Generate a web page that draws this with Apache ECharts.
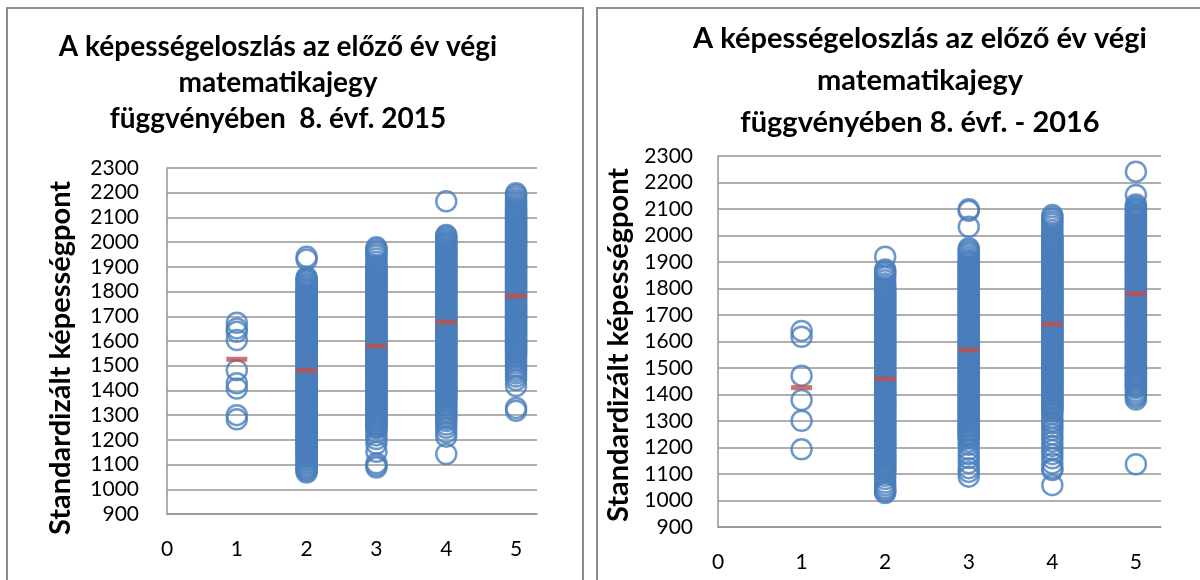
<!DOCTYPE html>
<html>
<head>
<meta charset="utf-8">
<title>Képességeloszlás</title>
<script src="https://cdn.jsdelivr.net/npm/echarts@6.0.0/dist/echarts.min.js"></script>
<style>
html, body { margin: 0; padding: 0; background: #fff; }
#chart { width: 1200px; height: 580px; }
</style>
</head>
<body>
<div id="chart"></div>
<script>
// évfolyam / jegy kategóriák
var grades = [1, 2, 3, 4, 5];
var xMin = 0, xMax = 5.3, xStep = 1;
var yMin = 900, yMax = 2300, yStep = 100;

var title2015 = ['A képességeloszlás az előző év végi', 'matematikajegy', 'függvényében  8. évf. 2015'];
var title2016 = ['A képességeloszlás az előző év végi', 'matematikajegy', 'függvényében 8. évf. - 2016'];
var yName = 'Standardizált képességpont';

// 2015 - képességpontok jegyenként (leolvasott becslés)
var s15g1 = [1674, 1651, 1637, 1604, 1482, 1429, 1408, 1300, 1283];
var s15g2 = [1941, 1930, 1858, 1851, 1846, 1840, 1832, 1826, 1820,
  1812, 1808, 1802, 1797, 1790, 1787, 1782, 1776, 1772, 1768, 1762, 1757, 1750, 1747, 1742, 1736,
  1732, 1728, 1722, 1717, 1710, 1707, 1702, 1696, 1692, 1688, 1682, 1677, 1670, 1667, 1662, 1656,
  1652, 1648, 1642, 1637, 1630, 1627, 1622, 1616, 1612, 1608, 1602, 1597, 1590, 1587, 1582, 1576,
  1572, 1568, 1562, 1557, 1550, 1547, 1542, 1536, 1532, 1528, 1522, 1517, 1510, 1507, 1502, 1496,
  1492, 1488, 1482, 1477, 1470, 1467, 1462, 1456, 1452, 1448, 1442, 1437, 1430, 1427, 1422, 1416,
  1412, 1408, 1402, 1397, 1390, 1387, 1382, 1376, 1372, 1368, 1362, 1357, 1350, 1347, 1342, 1336,
  1332, 1328, 1322, 1317, 1310, 1307, 1302, 1296, 1292, 1288, 1282, 1277, 1270, 1267, 1262, 1256,
  1252, 1248, 1242, 1237, 1230, 1227, 1222, 1216, 1212, 1208, 1202, 1197, 1190, 1187, 1182, 1176,
  1172, 1168, 1162, 1157, 1150, 1147, 1142, 1136, 1132, 1128, 1122, 1117,
  1110, 1104, 1097, 1090, 1085, 1079, 1074, 1068];
var s15g3 = [1979, 1972, 1964, 1955, 1946, 1934, 1921, 1909, 1902,
  1895, 1890, 1886, 1879, 1875, 1869, 1864, 1860, 1855, 1850, 1846, 1839, 1835, 1829, 1824, 1820,
  1815, 1810, 1806, 1799, 1795, 1789, 1784, 1780, 1775, 1770, 1766, 1759, 1755, 1749, 1744, 1740,
  1735, 1730, 1726, 1719, 1715, 1709, 1704, 1700, 1695, 1690, 1686, 1679, 1675, 1669, 1664, 1660,
  1655, 1650, 1646, 1639, 1635, 1629, 1624, 1620, 1615, 1610, 1606, 1599, 1595, 1589, 1584, 1580,
  1575, 1570, 1566, 1559, 1555, 1549, 1544, 1540, 1535, 1530, 1526, 1519, 1515, 1509, 1504, 1500,
  1495, 1490, 1486, 1479, 1475, 1469, 1464, 1460, 1455, 1450, 1446, 1439, 1435, 1429, 1424, 1420,
  1415, 1410, 1406, 1399, 1395, 1389, 1384, 1380, 1375, 1370, 1366, 1359, 1355, 1349, 1344, 1340,
  1335, 1330, 1326, 1319, 1315, 1309, 1304, 1300, 1295, 1290, 1286, 1279, 1275, 1269, 1264, 1260,
  1255, 1250, 1246,
  1232, 1218, 1203, 1184, 1152, 1105, 1096, 1088];
var s15g4 = [2165, 2029, 2024, 2017, 2010, 2004,
  1997, 1994, 1989, 1983, 1978, 1973, 1968, 1963, 1957, 1954, 1949, 1943, 1938, 1933, 1928, 1923,
  1917, 1914, 1909, 1903, 1898, 1893, 1888, 1883, 1877, 1874, 1869, 1863, 1858, 1853, 1848, 1843,
  1837, 1834, 1829, 1823, 1818, 1813, 1808, 1803, 1797, 1794, 1789, 1783, 1778, 1773, 1768, 1763,
  1757, 1754, 1749, 1743, 1738, 1733, 1728, 1723, 1717, 1714, 1709, 1703, 1698, 1693, 1688, 1683,
  1677, 1674, 1669, 1663, 1658, 1653, 1648, 1643, 1637, 1634, 1629, 1623, 1618, 1613, 1608, 1603,
  1597, 1594, 1589, 1583, 1578, 1573, 1568, 1563, 1557, 1554, 1549, 1543, 1538, 1533, 1528, 1523,
  1517, 1514, 1509, 1503, 1498, 1493, 1488, 1483, 1477, 1474, 1469, 1463, 1458, 1453, 1448, 1443,
  1437, 1434, 1429, 1423, 1418, 1413, 1408, 1403, 1397, 1394, 1389, 1383, 1378, 1373, 1368,
  1362, 1355, 1348, 1340, 1333, 1325, 1318, 1310, 1302, 1294, 1285, 1276, 1262, 1249, 1231, 1213, 1143];
var s15g5 = [2198, 2191, 2182, 2172, 2163, 2154, 2147,
  2140, 2134, 2129, 2125, 2119, 2113, 2108, 2103, 2100, 2094, 2089, 2085, 2079, 2073, 2068, 2063,
  2060, 2054, 2049, 2045, 2039, 2033, 2028, 2023, 2020, 2014, 2009, 2005, 1999, 1993, 1988, 1983,
  1980, 1974, 1969, 1965, 1959, 1953, 1948, 1943, 1940, 1934, 1929, 1925, 1919, 1913, 1908, 1903,
  1900, 1894, 1889, 1885, 1879, 1873, 1868, 1863, 1860, 1854, 1849, 1845, 1839, 1833, 1828, 1823,
  1820, 1814, 1809, 1805, 1799, 1793, 1788, 1783, 1780, 1774, 1769, 1765, 1759, 1753, 1748, 1743,
  1740, 1734, 1729, 1725, 1719, 1713, 1708, 1703, 1700, 1694, 1689, 1685, 1679, 1673, 1668, 1663,
  1660, 1654, 1649, 1645, 1639, 1633, 1628, 1623, 1620, 1614, 1609, 1605, 1599, 1593, 1588, 1583,
  1580, 1574, 1569, 1565, 1559, 1553, 1548,
  1538, 1530, 1521, 1510, 1499, 1489, 1479, 1469, 1456, 1442, 1418, 1329, 1318];
var mean2015 = [1526, 1481, 1580, 1677, 1782];

// 2016 - képességpontok jegyenként (leolvasott becslés)
var s16g1 = [1640, 1618, 1471, 1379, 1301, 1193];
var s16g2 = [1920, 1872, 1866, 1860, 1853, 1843, 1831, 1819, 1809,
  1801, 1796, 1792, 1785, 1781, 1775, 1770, 1766, 1761, 1756, 1752, 1745, 1741, 1735, 1730, 1726,
  1721, 1716, 1712, 1705, 1701, 1695, 1690, 1686, 1681, 1676, 1672, 1665, 1661, 1655, 1650, 1646,
  1641, 1636, 1632, 1625, 1621, 1615, 1610, 1606, 1601, 1596, 1592, 1585, 1581, 1575, 1570, 1566,
  1561, 1556, 1552, 1545, 1541, 1535, 1530, 1526, 1521, 1516, 1512, 1505, 1501, 1495, 1490, 1486,
  1481, 1476, 1472, 1465, 1461, 1455, 1450, 1446, 1441, 1436, 1432, 1425, 1421, 1415, 1410, 1406,
  1401, 1396, 1392, 1385, 1381, 1375, 1370, 1366, 1361, 1356, 1352, 1345, 1341, 1335, 1330, 1326,
  1321, 1316, 1312, 1305, 1301, 1295, 1290, 1286, 1281, 1276, 1272, 1265, 1261, 1255, 1250, 1246,
  1241, 1236, 1232, 1225, 1221, 1215, 1210, 1206, 1201, 1196, 1192, 1185, 1181, 1175, 1170, 1166,
  1161, 1156, 1152, 1145, 1141, 1135, 1130, 1126, 1121, 1116, 1112, 1105,
  1093, 1081, 1068, 1057, 1047, 1040, 1034, 1028];
var s16g3 = [2099, 2093, 2033, 1952, 1945, 1938, 1930, 1921, 1912,
  1905, 1901, 1895, 1890, 1883, 1880, 1875, 1869, 1865, 1861, 1855, 1850, 1843, 1840, 1835, 1829,
  1825, 1821, 1815, 1810, 1803, 1800, 1795, 1789, 1785, 1781, 1775, 1770, 1763, 1760, 1755, 1749,
  1745, 1741, 1735, 1730, 1723, 1720, 1715, 1709, 1705, 1701, 1695, 1690, 1683, 1680, 1675, 1669,
  1665, 1661, 1655, 1650, 1643, 1640, 1635, 1629, 1625, 1621, 1615, 1610, 1603, 1600, 1595, 1589,
  1585, 1581, 1575, 1570, 1563, 1560, 1555, 1549, 1545, 1541, 1535, 1530, 1523, 1520, 1515, 1509,
  1505, 1501, 1495, 1490, 1483, 1480, 1475, 1469, 1465, 1461, 1455, 1450, 1443, 1440, 1435, 1429,
  1425, 1421, 1415, 1410, 1403, 1400, 1395, 1389, 1385, 1381, 1375, 1370, 1363, 1360, 1355, 1349,
  1345, 1341, 1335, 1330, 1323, 1320, 1315, 1309, 1305, 1301, 1295, 1290, 1283, 1280, 1275, 1269,
  1265, 1261, 1255, 1250, 1243, 1240, 1235,
  1222, 1210, 1192, 1175, 1160, 1141, 1122, 1108, 1090];
var s16g4 = [2077, 2070, 2062, 2053, 2044, 2033, 2021, 2010, 1999,
  1990, 1987, 1982, 1976, 1971, 1966, 1961, 1956, 1950, 1947, 1942, 1936, 1931, 1926, 1921, 1916,
  1910, 1907, 1902, 1896, 1891, 1886, 1881, 1876, 1870, 1867, 1862, 1856, 1851, 1846, 1841, 1836,
  1830, 1827, 1822, 1816, 1811, 1806, 1801, 1796, 1790, 1787, 1782, 1776, 1771, 1766, 1761, 1756,
  1750, 1747, 1742, 1736, 1731, 1726, 1721, 1716, 1710, 1707, 1702, 1696, 1691, 1686, 1681, 1676,
  1670, 1667, 1662, 1656, 1651, 1646, 1641, 1636, 1630, 1627, 1622, 1616, 1611, 1606, 1601, 1596,
  1590, 1587, 1582, 1576, 1571, 1566, 1561, 1556, 1550, 1547, 1542, 1536, 1531, 1526, 1521, 1516,
  1510, 1507, 1502, 1496, 1491, 1486, 1481, 1476, 1470, 1467, 1462, 1456, 1451, 1446, 1441, 1436,
  1430, 1427, 1422, 1416, 1411, 1406, 1401, 1396, 1390, 1387, 1382, 1376, 1371, 1366, 1361, 1356,
  1350, 1347, 1342, 1336,
  1326, 1312, 1300, 1291, 1278, 1266, 1250, 1236, 1222, 1206, 1191, 1175, 1159, 1140, 1121, 1115, 1058];
var s16g5 = [2241, 2153, 2117,
  2110, 2104, 2099, 2095, 2089, 2083, 2078, 2073, 2070, 2064, 2059, 2055, 2049, 2043, 2038, 2033,
  2030, 2024, 2019, 2015, 2009, 2003, 1998, 1993, 1990, 1984, 1979, 1975, 1969, 1963, 1958, 1953,
  1950, 1944, 1939, 1935, 1929, 1923, 1918, 1913, 1910, 1904, 1899, 1895, 1889, 1883, 1878, 1873,
  1870, 1864, 1859, 1855, 1849, 1843, 1838, 1833, 1830, 1824, 1819, 1815, 1809, 1803, 1798, 1793,
  1790, 1784, 1779, 1775, 1769, 1763, 1758, 1753, 1750, 1744, 1739, 1735, 1729, 1723, 1718, 1713,
  1710, 1704, 1699, 1695, 1689, 1683, 1678, 1673, 1670, 1664, 1659, 1655, 1649, 1643, 1638, 1633,
  1630, 1624, 1619, 1615, 1609, 1603, 1598, 1593, 1590, 1584, 1579, 1575, 1569, 1563, 1558, 1553,
  1550, 1544, 1539, 1535, 1529, 1523, 1518, 1513, 1510, 1504, 1499, 1495, 1489, 1483, 1478, 1473,
  1470, 1464, 1459, 1455, 1449, 1443, 1438, 1433, 1430, 1424,
  1413, 1404, 1396, 1389, 1381, 1137];
var mean2016 = [1426, 1459, 1568, 1665, 1780];

var scores2015 = [s15g1, s15g2, s15g3, s15g4, s15g5];
var scores2016 = [s16g1, s16g2, s16g3, s16g4, s16g5];

// [jegy, pont] párok
function toPoints(lists) {
  var out = [];
  lists.forEach(function (list, i) {
    list.forEach(function (v) { out.push([grades[i], v]); });
  });
  return out;
}
function meanPoints(means) {
  return means.map(function (v, i) { return [grades[i], v]; });
}

var font = 'Lato, "Open Sans", sans-serif';
var gridColor = '#959595';

function makeX(gridIndex) {
  return {
    gridIndex: gridIndex,
    type: 'value',
    min: xMin, max: xMax, interval: xStep,
    axisLine: { show: true, lineStyle: { color: gridColor, width: 1.5 } },
    axisTick: { show: false },
    splitLine: { show: false },
    axisLabel: {
      margin: 25, color: '#000', fontFamily: font, fontSize: 21,
      formatter: function (v) { return Number.isInteger(v) ? String(v) : ''; }
    }
  };
}
function makeY(gridIndex, gap, margin, shift) {
  return {
    gridIndex: gridIndex,
    type: 'value',
    min: yMin, max: yMax, interval: yStep,
    name: yName,
    nameLocation: 'middle',
    nameGap: gap,
    nameTextStyle: { color: '#000', fontFamily: font, fontWeight: 'bold', fontSize: 29, padding: [0, shift, 0, 0] },
    axisLine: { show: true, lineStyle: { color: gridColor, width: 1.5 } },
    axisTick: { show: false },
    splitLine: { show: true, lineStyle: { color: gridColor, width: 1.5 } },
    axisLabel: {
      margin: margin, color: '#000', fontFamily: font, fontSize: 21,
      formatter: function (v) { return String(v); }
    }
  };
}
function makeTitle(lines, x, top, size, lh) {
  return {
    text: lines.join('\n'),
    left: x, top: top,
    textAlign: 'center',
    padding: 0,
    textStyle: { color: '#000', fontFamily: font, fontWeight: 'bold', fontSize: size, lineHeight: lh }
  };
}
function dotSeries(idx, lists) {
  return {
    type: 'scatter',
    xAxisIndex: idx, yAxisIndex: idx,
    symbol: 'circle', symbolSize: 20,
    silent: true,
    itemStyle: { color: 'rgba(0,0,0,0)', borderColor: '#4A7EBB', borderWidth: 2.5 },
    data: toPoints(lists)
  };
}
function meanSeries(idx, means) {
  return {
    type: 'scatter',
    xAxisIndex: idx, yAxisIndex: idx,
    symbol: 'rect', symbolSize: [21, 5],
    silent: true, z: 3,
    itemStyle: { color: '#C0504D' },
    data: meanPoints(means)
  };
}

var myChart = echarts.init(document.getElementById('chart'));
myChart.setOption({
  animation: false,
  backgroundColor: '#fff',
  title: [
    makeTitle(title2015, 278, 29, 28, 36),
    makeTitle(title2016, 920, 18, 29, 42)
  ],
  graphic: [
    { type: 'rect', shape: { x: 7, y: 8, width: 576, height: 600 }, style: { fill: 'none', stroke: '#8c8c8c', lineWidth: 2 } },
    { type: 'rect', shape: { x: 597, y: 8, width: 700, height: 600 }, style: { fill: 'none', stroke: '#8c8c8c', lineWidth: 2 } }
  ],
  grid: [
    { left: 167, top: 168, width: 370, height: 346, outerBoundsMode: 'none' },
    { left: 718, top: 156, width: 443, height: 371, outerBoundsMode: 'none' }
  ],
  xAxis: [makeX(0), makeX(1)],
  yAxis: [makeY(0, 92, 28, 34), makeY(1, 85, 25, 7)],
  series: [
    dotSeries(0, scores2015),
    meanSeries(0, mean2015),
    dotSeries(1, scores2016),
    meanSeries(1, mean2016)
  ]
});
</script>
</body>
</html>
